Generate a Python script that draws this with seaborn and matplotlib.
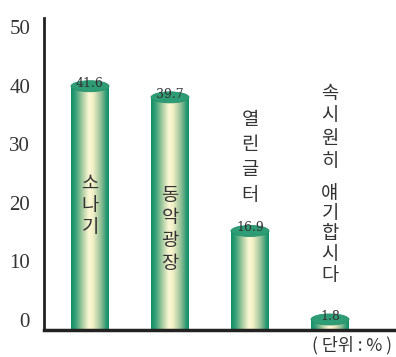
import numpy as np
import pandas as pd
import matplotlib
matplotlib.use("Agg")
import matplotlib.pyplot as plt
import seaborn as sns
from matplotlib.colors import LinearSegmentedColormap
from matplotlib.patches import Ellipse
from matplotlib.transforms import blended_transform_factory, ScaledTranslation

# ---- data ----
categories = ["소나기", "동악광장", "열린글터", "속시원히 얘기합시다"]
values = [41.6, 39.7, 16.9, 1.8]
value_labels = ["41.6", "39.7", "16.9", "1.8"]
y_ticks = [0, 10, 20, 30, 40, 50]
unit_label = "( 단위 : % )"

df = pd.DataFrame({"cat": categories, "val": values})

sns.set_theme(style="white")
plt.rcParams["font.family"] = ["Noto Sans CJK KR", "DejaVu Sans"]

W, H, DPI = 396, 357, 100
fig = plt.figure(figsize=(W / DPI, H / DPI), dpi=DPI)
ax = fig.add_axes([44 / W, 27 / H, 1 - 44 / W, (330 - 18) / H])

bar_w = 0.475
sns.barplot(data=df, x="cat", y="val", order=categories, width=bar_w,
            color="#2a9a72", ax=ax, saturation=1)

ax.set_xlim(-0.575, 3.825)
px_per_unit = 5.86
ax.set_ylim(0, (330 - 18) / px_per_unit)

# cylinder gradient
cmap = LinearSegmentedColormap.from_list(
    "cyl",
    [(0.0, "#0e8e68"), (0.12, "#38a078"), (0.3, "#a8cba0"),
     (0.47, "#fcf8d6"), (0.58, "#f3efc6"), (0.8, "#8dbd94"),
     (0.93, "#2a9a72"), (1.0, "#0e8e68")])
grad = np.linspace(0, 1, 256).reshape(1, -1)
ell_h = 11 / px_per_unit
for p, v in zip(ax.patches, values):
    x0, w = p.get_x(), p.get_width()
    p.set_facecolor("none")
    p.set_edgecolor("none")
    im = ax.imshow(grad, cmap=cmap, aspect="auto",
                   extent=[x0, x0 + w, 0, v], zorder=2, interpolation="bicubic")
    im.set_clip_path(p)
    ax.add_patch(Ellipse((x0 + w / 2, v), w, ell_h, facecolor="#2e9c74",
                         edgecolor="#23926b", lw=0.6, zorder=3))
ax.set_xlim(-0.575, 3.825)
ax.set_ylim(0, (330 - 18) / px_per_unit)

# value labels
for i, (v, lab) in enumerate(zip(values, value_labels)):
    ax.annotate(lab, (i, v), xytext=(0, 3), textcoords="offset pixels",
                ha="center", va="center", fontsize=9, color="#333333",
                family="DejaVu Serif", zorder=4)

# vertical category texts
tr = blended_transform_factory(ax.transData, fig.dpi_scale_trans)

def vtext(xi, y_first, step, chars):
    for k, ch in enumerate(chars):
        y_px = y_first + k * step
        ax.text(xi, (H - y_px) / DPI, ch, transform=tr, ha="center",
                va="center", fontsize=13.5, color="#333333", zorder=5,
                family=["Noto Sans CJK KR", "DejaVu Sans"])

vtext(0, 183, 22, categories[0])
vtext(1, 195, 22.7, categories[1])
vtext(2, 119, 25.5, categories[2])
first, second = categories[3].split(" ")
vtext(3, 93, 23, first)
vtext(3, 193, 20.5, second)

# axes styling
ax.set_xlabel("")
ax.set_ylabel("")
ax.set_xticks([])
ax.set_yticks(y_ticks)
ax.set_yticklabels([str(t) for t in y_ticks], family="Liberation Serif",
                   fontsize=15, color="#333333")
ax.tick_params(axis="y", length=0, pad=10)
off = ScaledTranslation(0, 10 / DPI, fig.dpi_scale_trans)
for lab in ax.get_yticklabels():
    lab.set_transform(lab.get_transform() + off)
for s in ["top", "right"]:
    ax.spines[s].set_visible(False)
ax.spines["left"].set_linewidth(2)
ax.spines["bottom"].set_linewidth(2.5)
ax.spines["left"].set_color("#222222")
ax.spines["bottom"].set_color("#222222")
ax.set_facecolor("white")
ax.grid(False)

fig.text(392 / W, (H - 345) / H, unit_label, ha="right", va="center",
         fontsize=12.5, color="#333333",
         family=["Noto Sans CJK KR", "DejaVu Sans"])

fig.savefig("out.png", dpi=DPI, facecolor="white")
